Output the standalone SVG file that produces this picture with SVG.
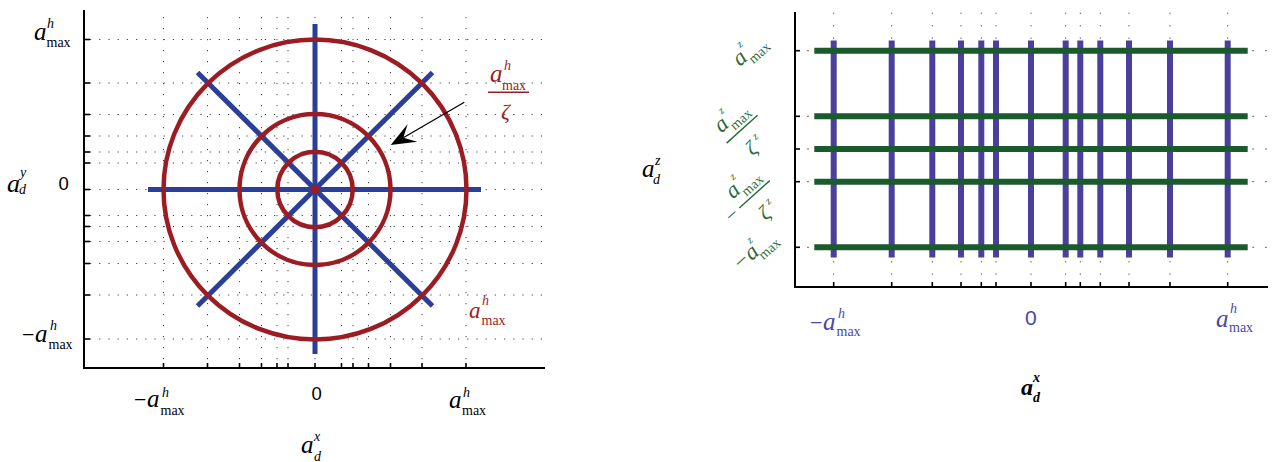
<svg xmlns="http://www.w3.org/2000/svg" width="1272" height="462" viewBox="0 0 1272 462">
<style>
.ax{stroke:#000;stroke-width:2;fill:none}
.tk{stroke:#000;stroke-width:1.6}
.dv{stroke:#444;stroke-width:1;stroke-dasharray:1.2 9.8}
.dh{stroke:#444;stroke-width:1;stroke-dasharray:1.2 8}
.dv2{stroke:#666;stroke-width:1;stroke-dasharray:1.5 10.92}
.dh2{stroke:#666;stroke-width:1;stroke-dasharray:2 10.72}
.red{stroke:#9b1c22;stroke-width:4.5;fill:none}
.blu{stroke:#2b3f99;stroke-width:5}
.pur{stroke:#4b3f9d;stroke-width:6}
.grn{stroke:#1a5a2c;stroke-width:6}
.m{font-family:"Liberation Serif",serif;font-style:italic}
.r{font-family:"Liberation Serif",serif;font-style:normal}
.s{font-family:"Liberation Sans",sans-serif}
.big{font-size:25px}
.sm{font-size:14px}
.mn{font-size:22px}
.gz{font-size:11px}
.gm{font-size:14px}
</style>

<!-- LEFT PLOT -->
<g id="left-grid">
<g class="dv">
<line x1="163.5" y1="17" x2="163.5" y2="363"/><line x1="207.5" y1="17" x2="207.5" y2="363"/>
<line x1="239.5" y1="17" x2="239.5" y2="363"/><line x1="261.5" y1="17" x2="261.5" y2="363"/>
<line x1="277" y1="17" x2="277" y2="363"/><line x1="288" y1="17" x2="288" y2="363"/>
<line x1="315" y1="17" x2="315" y2="363"/><line x1="341.5" y1="17" x2="341.5" y2="363"/>
<line x1="353" y1="17" x2="353" y2="363"/><line x1="368.5" y1="17" x2="368.5" y2="363"/>
<line x1="390.5" y1="17" x2="390.5" y2="363"/><line x1="422" y1="17" x2="422" y2="363"/>
<line x1="466" y1="17" x2="466" y2="363"/>
</g>
<g class="dh">
<line x1="90" y1="39.5" x2="545" y2="39.5"/><line x1="90" y1="83" x2="545" y2="83"/>
<line x1="90" y1="114.5" x2="545" y2="114.5"/><line x1="90" y1="136" x2="545" y2="136"/>
<line x1="90" y1="152" x2="545" y2="152"/><line x1="90" y1="163" x2="545" y2="163"/>
<line x1="90" y1="189.5" x2="545" y2="189.5"/><line x1="90" y1="215.5" x2="545" y2="215.5"/>
<line x1="90" y1="226.5" x2="545" y2="226.5"/><line x1="90" y1="241.5" x2="545" y2="241.5"/>
<line x1="90" y1="263.5" x2="545" y2="263.5"/><line x1="90" y1="295" x2="545" y2="295"/>
<line x1="90" y1="339" x2="545" y2="339"/>
</g>
</g>
<g id="left-axes">
<path class="ax" d="M84,10 V368 H545"/>
<g class="tk">
<line x1="84" y1="39.5" x2="90" y2="39.5"/><line x1="84" y1="83" x2="90" y2="83"/>
<line x1="84" y1="114.5" x2="90" y2="114.5"/><line x1="84" y1="136" x2="90" y2="136"/>
<line x1="84" y1="152" x2="90" y2="152"/><line x1="84" y1="163" x2="90" y2="163"/>
<line x1="84" y1="189.5" x2="90" y2="189.5"/><line x1="84" y1="215.5" x2="90" y2="215.5"/>
<line x1="84" y1="226.5" x2="90" y2="226.5"/><line x1="84" y1="241.5" x2="90" y2="241.5"/>
<line x1="84" y1="263.5" x2="90" y2="263.5"/><line x1="84" y1="295" x2="90" y2="295"/>
<line x1="84" y1="339" x2="90" y2="339"/>
<line x1="163.5" y1="363" x2="163.5" y2="368"/><line x1="207.5" y1="363" x2="207.5" y2="368"/>
<line x1="239.5" y1="363" x2="239.5" y2="368"/><line x1="261.5" y1="363" x2="261.5" y2="368"/>
<line x1="277" y1="363" x2="277" y2="368"/><line x1="288" y1="363" x2="288" y2="368"/>
<line x1="315" y1="363" x2="315" y2="368"/><line x1="341.5" y1="363" x2="341.5" y2="368"/>
<line x1="353" y1="363" x2="353" y2="368"/><line x1="368.5" y1="363" x2="368.5" y2="368"/>
<line x1="390.5" y1="363" x2="390.5" y2="368"/><line x1="422" y1="363" x2="422" y2="368"/>
<line x1="466" y1="363" x2="466" y2="368"/>
</g>
</g>
<g id="spokes">
<line class="blu" x1="148" y1="189.5" x2="481" y2="189.5"/>
<line class="blu" x1="315" y1="24" x2="315" y2="354"/>
<line class="blu" x1="197.5" y1="72.5" x2="432.5" y2="306"/>
<line class="blu" x1="432.5" y1="72.5" x2="197.5" y2="306"/>
</g>
<g id="circles">
<ellipse class="red" cx="315" cy="189.5" rx="151.5" ry="150"/>
<circle class="red" cx="315" cy="189.5" r="75.5"/>
<circle class="red" cx="315" cy="189.5" r="37.7"/>
<circle cx="315" cy="189.5" r="4.5" fill="#9b1c22"/>
</g>
<g id="arrow">
<line x1="464.3" y1="102.3" x2="403.3" y2="137.7" stroke="#000" stroke-width="1.3"/>
<polygon points="390.7,145 407.7,124 403.3,137.7 417.3,141.7" fill="#000"/>
</g>
<g id="left-labels">
<text class="m big" x="34" y="39.5">a<tspan class="sm" x="47" y="28">h</tspan><tspan class="r sm" x="46.5" y="47">max</tspan></text>
<text class="m" font-size="26" x="7" y="192">a<tspan class="sm" x="20" y="177">y</tspan><tspan class="sm" x="19" y="194">d</tspan></text>
<text class="s" font-size="18.5" x="58.5" y="189.5">0</text>
<text class="m big" x="22" y="342"><tspan class="r mn">−</tspan><tspan x="35">a</tspan><tspan class="sm" x="50" y="330">h</tspan><tspan class="r sm" x="48.5" y="349">max</tspan></text>
<text class="m big" x="134" y="407"><tspan class="r mn">−</tspan><tspan x="147">a</tspan><tspan class="sm" x="162" y="397">h</tspan><tspan class="r sm" x="160.5" y="415">max</tspan></text>
<text class="s" font-size="18.5" x="311.5" y="400">0</text>
<text class="m big" x="449" y="408">a<tspan class="sm" x="463" y="397">h</tspan><tspan class="r sm" x="462" y="415">max</tspan></text>
<text class="m" font-size="25" x="301" y="453">a<tspan class="sm" x="314" y="441">x</tspan><tspan class="sm" x="314" y="461">d</tspan></text>
</g>
<g id="red-labels" fill="#9b1c22">
<text class="m big" x="490" y="82">a<tspan class="sm" x="504" y="70">h</tspan><tspan class="r sm" x="502" y="90">max</tspan></text>
<line x1="488" y1="92.3" x2="529" y2="92.3" stroke="#9b1c22" stroke-width="1.5"/>
<text class="m" font-size="22" x="501" y="119">ζ</text>
<text class="m" font-size="23" x="469" y="318">a<tspan class="sm" x="482" y="305">h</tspan><tspan class="r sm" x="481.5" y="325">max</tspan></text>
</g>

<!-- RIGHT PLOT -->
<g id="right-grid">
<g class="dv2">
<line x1="833.7" y1="12.6" x2="833.7" y2="283"/><line x1="891.7" y1="12.6" x2="891.7" y2="283"/>
<line x1="932.3" y1="12.6" x2="932.3" y2="283"/><line x1="961" y1="12.6" x2="961" y2="283"/>
<line x1="981.3" y1="12.6" x2="981.3" y2="283"/><line x1="996" y1="12.6" x2="996" y2="283"/>
<line x1="1031" y1="12.6" x2="1031" y2="283"/><line x1="1065.7" y1="12.6" x2="1065.7" y2="283"/>
<line x1="1080.3" y1="12.6" x2="1080.3" y2="283"/><line x1="1100.3" y1="12.6" x2="1100.3" y2="283"/>
<line x1="1129" y1="12.6" x2="1129" y2="283"/><line x1="1170" y1="12.6" x2="1170" y2="283"/>
<line x1="1227.7" y1="12.6" x2="1227.7" y2="283"/>
</g>
<g class="dh2">
<line x1="807" y1="50.7" x2="1268" y2="50.7"/><line x1="807" y1="116.3" x2="1268" y2="116.3"/>
<line x1="807" y1="149" x2="1268" y2="149"/><line x1="807" y1="181.7" x2="1268" y2="181.7"/>
<line x1="807" y1="247.3" x2="1268" y2="247.3"/>
</g>
</g>
<g id="right-axes">
<path class="ax" d="M795,12 V287 H1268"/>
<g class="tk">
<line x1="795" y1="50.7" x2="800" y2="50.7"/><line x1="795" y1="116.3" x2="800" y2="116.3"/>
<line x1="795" y1="149" x2="800" y2="149"/><line x1="795" y1="181.7" x2="800" y2="181.7"/>
<line x1="795" y1="247.3" x2="800" y2="247.3"/>
<line x1="833.7" y1="282" x2="833.7" y2="287"/><line x1="891.7" y1="282" x2="891.7" y2="287"/>
<line x1="932.3" y1="282" x2="932.3" y2="287"/><line x1="961" y1="282" x2="961" y2="287"/>
<line x1="981.3" y1="282" x2="981.3" y2="287"/><line x1="996" y1="282" x2="996" y2="287"/>
<line x1="1031" y1="282" x2="1031" y2="287"/><line x1="1065.7" y1="282" x2="1065.7" y2="287"/>
<line x1="1080.3" y1="282" x2="1080.3" y2="287"/><line x1="1100.3" y1="282" x2="1100.3" y2="287"/>
<line x1="1129" y1="282" x2="1129" y2="287"/><line x1="1170" y1="282" x2="1170" y2="287"/>
<line x1="1227.7" y1="282" x2="1227.7" y2="287"/>
</g>
</g>
<g id="vbars" class="pur">
<line x1="833.7" y1="40.5" x2="833.7" y2="257.5"/><line x1="891.7" y1="40.5" x2="891.7" y2="257.5"/>
<line x1="932.3" y1="40.5" x2="932.3" y2="257.5"/><line x1="961" y1="40.5" x2="961" y2="257.5"/>
<line x1="981.3" y1="40.5" x2="981.3" y2="257.5"/><line x1="996" y1="40.5" x2="996" y2="257.5"/>
<line x1="1031" y1="40.5" x2="1031" y2="257.5"/><line x1="1065.7" y1="40.5" x2="1065.7" y2="257.5"/>
<line x1="1080.3" y1="40.5" x2="1080.3" y2="257.5"/><line x1="1100.3" y1="40.5" x2="1100.3" y2="257.5"/>
<line x1="1129" y1="40.5" x2="1129" y2="257.5"/><line x1="1170" y1="40.5" x2="1170" y2="257.5"/>
<line x1="1227.7" y1="40.5" x2="1227.7" y2="257.5"/>
</g>
<g id="hbars" class="grn">
<line x1="814.3" y1="50.7" x2="1247.7" y2="50.7"/><line x1="814.3" y1="116.3" x2="1247.7" y2="116.3"/>
<line x1="814.3" y1="149" x2="1247.7" y2="149"/><line x1="814.3" y1="181.7" x2="1247.7" y2="181.7"/>
<line x1="814.3" y1="247.3" x2="1247.7" y2="247.3"/>
</g>
<g id="right-labels">
<text class="m big" x="642" y="177">a<tspan class="sm" x="655" y="165">z</tspan><tspan class="sm" x="653" y="184">d</tspan></text>
<g fill="#4848a8">
<text class="m big" x="810" y="330"><tspan class="r mn">−</tspan><tspan x="823">a</tspan><tspan class="sm" x="838" y="318">h</tspan><tspan class="r sm" x="836.5" y="336">max</tspan></text>
<text class="s" font-size="21" x="1025" y="325">0</text>
<text class="m big" x="1216" y="327">a<tspan class="sm" x="1230" y="313">h</tspan><tspan class="r sm" x="1229" y="332">max</tspan></text>
</g>
<text class="m" font-size="24" font-weight="bold" x="1021" y="395">a<tspan class="sm" x="1033" y="381.5">x</tspan><tspan class="sm" x="1033" y="402">d</tspan></text>
</g>
<g id="green-labels" fill="#2a6a3a">
<g transform="translate(740,67) rotate(-42)">
<text class="m" font-size="23" x="0" y="0">a<tspan class="gz" x="13" y="-14">z</tspan><tspan class="r gm" x="12" y="7">max</tspan></text>
</g>
<g transform="translate(721.5,133.6) rotate(-42)">
<text class="m" font-size="23" x="0" y="0">a<tspan class="gz" x="13" y="-14">z</tspan><tspan class="r gm" x="12" y="7">max</tspan></text>
<line x1="-2.6" y1="10.5" x2="39" y2="10.5" stroke="#2a6a3a" stroke-width="1.4"/>
<text class="m" font-size="21" x="8" y="38">ζ<tspan class="gz" x="21" y="28">z</tspan></text>
</g>
<g transform="translate(733,199.6) rotate(-42)">
<text class="m" font-size="23" x="0" y="0">a<tspan class="gz" x="13" y="-14">z</tspan><tspan class="r gm" x="12" y="7">max</tspan></text>
<line x1="-1" y1="10.5" x2="40" y2="10.5" stroke="#2a6a3a" stroke-width="1.4"/>
<text class="m" font-size="20" x="-18" y="17">−</text>
<text class="m" font-size="21" x="10" y="38">ζ<tspan class="gz" x="23" y="28">z</tspan></text>
</g>
<g transform="translate(750,263) rotate(-42)">
<text class="m" font-size="23" x="-13" y="0">−a<tspan class="gz" x="13" y="-14">z</tspan><tspan class="r gm" x="12" y="7">max</tspan></text>
</g>
</g>
</svg>
